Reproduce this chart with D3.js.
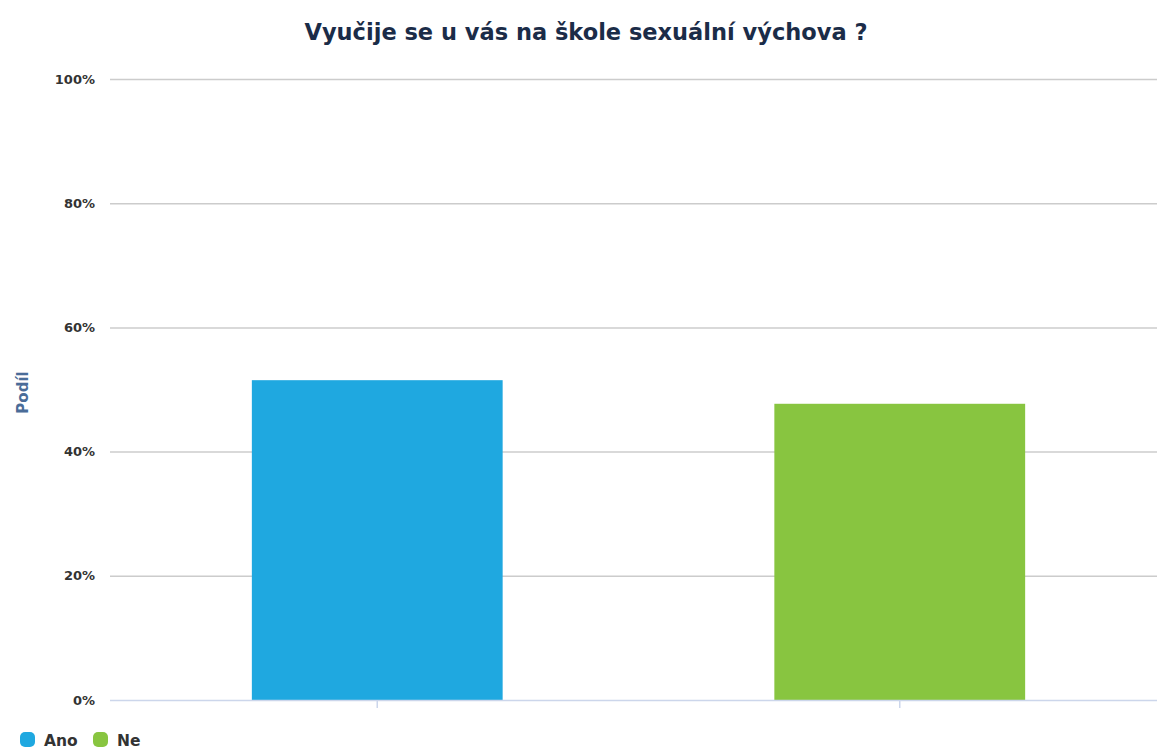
<!DOCTYPE html>
<html>
<head>
<meta charset="utf-8">
<script src="https://cdn.jsdelivr.net/npm/d3@7"></script>
<style>
  html, body { margin: 0; padding: 0; background: #ffffff; }
  svg { display: block; font-family: "DejaVu Sans", "Liberation Sans", sans-serif; }
</style>
</head>
<body>
<svg id="chart" width="1157" height="749"></svg>
<script>
// Survey answers and their shares (percent)
const categories = ["Ano", "Ne"];
const shares = [51.5, 47.7];
const colors = ["#1fa8e0", "#88c540"];
const yTicks = [0, 20, 40, 60, 80, 100];
const titleText = "Vyučije se u vás na škole sexuální výchova ?";
const yAxisTitle = "Podíl";

const svg = d3.select("#chart");
const W = 1157, H = 749;
const plot = { left: 116, right: 1161, top: 79, bottom: 700 };

const x = d3.scaleBand()
  .domain(categories)
  .range([plot.left, plot.right])
  .paddingInner(0.52)
  .paddingOuter(0.26);

const y = d3.scaleLinear()
  .domain([0, 100])
  .range([plot.bottom, plot.top]);

// Title
svg.append("text")
  .attr("x", 586)
  .attr("y", 40)
  .attr("text-anchor", "middle")
  .attr("font-size", 22.5)
  .attr("font-weight", "bold")
  .attr("fill", "#1b2c48")
  .text(titleText);

// Horizontal grid lines
svg.append("g")
  .selectAll("line")
  .data(yTicks.filter(d => d > 0))
  .join("line")
  .attr("x1", 110)
  .attr("x2", W)
  .attr("y1", d => y(d) + 0.5)
  .attr("y2", d => y(d) + 0.5)
  .attr("stroke", "#cccccc")
  .attr("stroke-width", 1.5);

// Y axis labels
const yAxis = d3.axisLeft(y)
  .tickValues(yTicks)
  .tickFormat(d => d + "%")
  .tickSize(0)
  .tickPadding(0);
const gy = svg.append("g")
  .attr("transform", `translate(95,0)`)
  .call(yAxis);
gy.select(".domain").remove();
gy.selectAll("text")
  .attr("font-size", 13)
  .attr("font-weight", "bold")
  .attr("fill", "#333333")
  .attr("font-family", "\"DejaVu Sans\", sans-serif");

// Y axis title
svg.append("text")
  .attr("transform", `translate(28,${(plot.top + plot.bottom) / 2 + 3}) rotate(-90)`)
  .attr("text-anchor", "middle")
  .attr("font-size", 15)
  .attr("font-weight", "bold")
  .attr("fill", "#4a6c98")
  .text(yAxisTitle);

// Bars
svg.append("g")
  .selectAll("rect")
  .data(categories)
  .join("rect")
  .attr("x", d => x(d))
  .attr("width", x.bandwidth())
  .attr("y", (d, i) => y(shares[i]))
  .attr("height", (d, i) => y(0) - y(shares[i]))
  .attr("fill", (d, i) => colors[i]);

// X axis baseline and ticks
const xAxis = d3.axisBottom(x).tickSize(8).tickFormat("");
const gx = svg.append("g")
  .attr("transform", `translate(0,${plot.bottom})`)
  .call(xAxis);
gx.select(".domain")
  .attr("d", `M110,0.5H${W}`)
  .attr("stroke", "#ccd6eb")
  .attr("stroke-width", 1.5);
gx.selectAll(".tick line").attr("stroke", "#ccd6eb").attr("stroke-width", 1.5);

// Legend
const legend = svg.append("g").attr("transform", "translate(20,740)");
const legendX = [0, 73];
categories.forEach((c, i) => {
  const g = legend.append("g").attr("transform", `translate(${legendX[i]},0)`);
  g.append("rect")
    .attr("x", 0).attr("y", -8)
    .attr("width", 15).attr("height", 15)
    .attr("rx", 5)
    .attr("fill", colors[i]);
  g.append("text")
    .attr("x", 24).attr("y", 6)
    .attr("font-size", 15.5)
    .attr("font-weight", "bold")
    .attr("fill", "#333333")
    .text(c);
});
</script>
</body>
</html>
